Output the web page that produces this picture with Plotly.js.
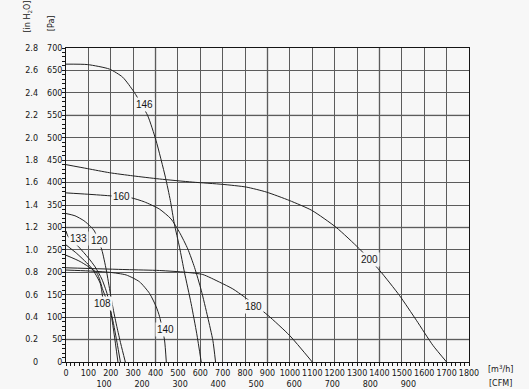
<!DOCTYPE html>
<html>
<head>
<meta charset="utf-8">
<script src="https://cdn.plot.ly/plotly-3.0.1.min.js"></script>
<style>html,body{margin:0;padding:0;background:#f7f7f7;}#chart{width:529px;height:389px;}</style>
</head>
<body>
<div id="chart"></div>
<script>
// Fan curves: airflow Q [m3/h] vs static pressure P [Pa]
const q146 = [0, 97, 194, 253, 305, 365, 402, 444, 466, 484, 507, 529, 559, 584, 604];
const p146 = [664, 663, 653, 635, 601, 549, 494, 412, 360, 308, 256, 200, 130, 63, 0];

const q160 = [0, 97, 209, 291, 350, 417, 469, 507, 544, 574, 604, 633, 656, 668];
const p160 = [377, 374, 370, 366, 357, 341, 319, 289, 252, 211, 160, 100, 48, 0];

const q200 = [0, 97, 194, 298, 417, 566, 700, 805, 894, 998, 1098, 1207, 1311, 1401, 1490, 1565, 1639, 1700];
const p200 = [440, 431, 422, 415, 408, 401, 396, 390, 379, 360, 338, 300, 252, 204, 148, 93, 37, 0];

const q180 = [0, 268, 417, 536, 611, 686, 745, 797, 902, 999, 1100];
const p180 = [210, 206, 204, 200, 195, 178, 163, 145, 104, 59, 0];

const q140 = [0, 100, 194, 269, 328, 373, 403, 418, 440, 448];
const p140 = [205, 203, 200, 194, 179, 153, 123, 101, 49, 0];

const q120 = [0, 40, 80, 110, 127, 160, 180, 198, 212, 227, 245, 265];
const p120 = [331, 326, 315, 302, 292, 250, 205, 153, 115, 79, 40, 0];

const q133 = [0, 8, 56, 100, 130, 160, 183, 197, 212, 228, 243];
const p133 = [292, 281, 257, 232, 212, 185, 153, 120, 86, 43, 0];

const q108 = [0, 63, 138, 165, 198, 215, 232];
const p108 = [238, 224, 198, 160, 115, 62, 0];

const q108b = [0, 48, 115, 153, 166];
const p108b = [261, 242, 209, 175, 135];

// Curve labels (placed on the curves)
const labelNames = ['146', '160', '200', '180', '140', '133', '120', '108'];
const labelQ = [351, 249, 1357, 839, 443, 57, 150, 164];
const labelP = [574, 368, 229, 123, 73, 276, 270, 131];

// Axis ticks
const paTicks = [0, 50, 100, 150, 200, 250, 300, 350, 400, 450, 500, 550, 600, 650, 700];
const inH2OTicks = [0, 0.2, 0.4, 0.6, 0.8, 1.0, 1.2, 1.4, 1.6, 1.8, 2.0, 2.2, 2.4, 2.6, 2.8];
const inH2OLabels = ['0', '0.2', '0.4', '0.6', '0.8', '1.0', '1.2', '1.4', '1.6', '1.8', '2.0', '2.2', '2.4', '2.6', '2.8'];
const m3hTicks = [0, 100, 200, 300, 400, 500, 600, 700, 800, 900, 1000, 1100, 1200, 1300, 1400, 1500, 1600, 1700, 1800];
const cfmTicks = [100, 200, 300, 400, 500, 600, 700, 800, 900];
const M3H_PER_CFM = 1.699;

// Emphasised grid lines
const highlightQ = [400, 900, 1400];
const highlightP = [50, 300, 550];

const BG = '#f7f7f7';
const INK = '#151515';
const GRID = '#5c5c5c';
const TICKFONT = {family: 'DejaVu Sans', size: 8, color: INK};

function curve(q, p, name) {
  return {
    x: q, y: p, name: name, type: 'scatter', mode: 'lines',
    line: {color: '#222222', width: 1, shape: 'spline', smoothing: 0.6},
    hoverinfo: 'skip', showlegend: false
  };
}

const data = [
  curve(q146, p146, '146'),
  curve(q160, p160, '160'),
  curve(q200, p200, '200'),
  curve(q180, p180, '180'),
  curve(q140, p140, '140'),
  curve(q120, p120, '120'),
  curve(q133, p133, '133'),
  curve(q108, p108, '108'),
  curve(q108b, p108b, '108b'),
  // empty carriers so that the secondary (CFM and inH2O) axes are drawn
  {x: [], y: [], type: 'scatter', mode: 'lines', xaxis: 'x2', yaxis: 'y', showlegend: false, hoverinfo: 'skip'},
  {x: [], y: [], type: 'scatter', mode: 'lines', xaxis: 'x', yaxis: 'y2', showlegend: false, hoverinfo: 'skip'}
];

const shapes = [];
highlightQ.forEach(v => shapes.push({type: 'line', xref: 'x', yref: 'paper', x0: v, x1: v, y0: 0, y1: 1,
  line: {color: '#c2c2c2', width: 2}, layer: 'between'}));
highlightP.forEach(v => shapes.push({type: 'line', xref: 'paper', yref: 'y', x0: 0, x1: 1, y0: v, y1: v,
  line: {color: '#c2c2c2', width: 2}, layer: 'between'}));

const annotations = labelNames.map((t, i) => ({
  x: labelQ[i], y: labelP[i], xref: 'x', yref: 'y', text: t, showarrow: false,
  font: {family: 'Liberation Sans', size: 10, color: INK},
  bgcolor: BG, borderpad: 1, xanchor: 'center', yanchor: 'middle'
}));
annotations.push(
  {xref: 'paper', yref: 'paper', x: -0.0944, y: 1.10, text: '[in H<sub>2</sub>O]', textangle: -90,
   showarrow: false, font: {family: 'DejaVu Sans', size: 8, color: INK}, xanchor: 'center', yanchor: 'middle'},
  {xref: 'paper', yref: 'paper', x: -0.034, y: 1.08, text: '[Pa]', textangle: -90,
   showarrow: false, font: {family: 'DejaVu Sans', size: 8, color: INK}, xanchor: 'center', yanchor: 'middle'},
  {xref: 'paper', yref: 'paper', x: 1.079, y: -0.022, text: '[m<sup>3</sup>/h]',
   showarrow: false, font: {family: 'DejaVu Sans', size: 8, color: INK}, xanchor: 'center', yanchor: 'middle'},
  {xref: 'paper', yref: 'paper', x: 1.079, y: -0.067, text: '[CFM]',
   showarrow: false, font: {family: 'DejaVu Sans', size: 8, color: INK}, xanchor: 'center', yanchor: 'middle'}
);

const layout = {
  width: 529, height: 389,
  margin: {l: 66, r: 60, t: 48, b: 27, pad: 0},
  paper_bgcolor: BG, plot_bgcolor: BG,
  showlegend: false,
  xaxis: {
    range: [0, 1800], tickvals: m3hTicks, ticks: 'outside', ticklen: 3, tickcolor: INK,
    showgrid: true, gridcolor: GRID, gridwidth: 1, zeroline: false,
    showline: true, linecolor: INK, linewidth: 1, mirror: true,
    tickfont: TICKFONT, fixedrange: true,
    minor: {dtick: 20, tick0: 0, ticks: 'outside', ticklen: 3, tickcolor: INK, showgrid: false}
  },
  xaxis2: {
    overlaying: 'x', anchor: 'y', side: 'bottom',
    range: [0, 1800 / M3H_PER_CFM], tickvals: cfmTicks, ticks: '', showgrid: false,
    zeroline: false, showline: false, tickfont: TICKFONT, ticklabelstandoff: 16, fixedrange: true
  },
  yaxis: {
    range: [0, 700], tickvals: paTicks, ticks: 'outside', ticklen: 3, tickcolor: INK,
    showgrid: true, gridcolor: GRID, gridwidth: 1, zeroline: false,
    showline: true, linecolor: INK, linewidth: 1, mirror: true,
    tickfont: TICKFONT, fixedrange: true, ticklabelstandoff: -2,
    minor: {dtick: 10, tick0: 0, ticks: 'outside', ticklen: 3, tickcolor: INK, showgrid: false}
  },
  yaxis2: {
    overlaying: 'y', anchor: 'x', side: 'left',
    range: [0, 2.8], tickvals: inH2OTicks, ticktext: inH2OLabels, ticks: '', showgrid: false,
    zeroline: false, showline: false, tickfont: TICKFONT, ticklabelstandoff: 27, fixedrange: true
  },
  shapes: shapes,
  annotations: annotations
};

Plotly.newPlot('chart', data, layout, {staticPlot: true, displayModeBar: false});
</script>
</body>
</html>
